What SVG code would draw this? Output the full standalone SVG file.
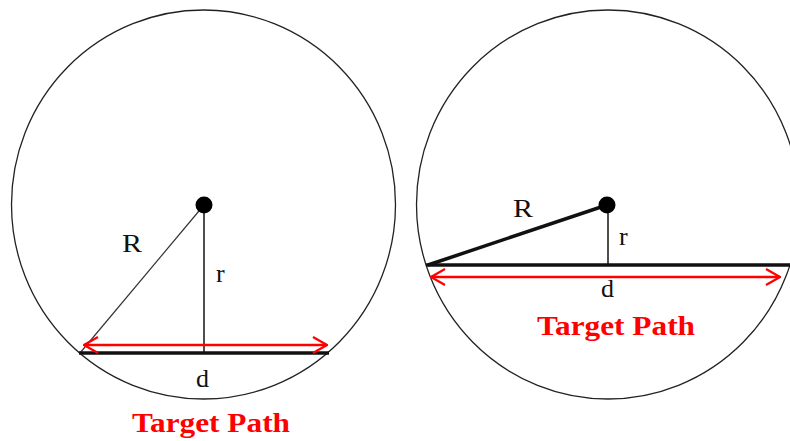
<svg xmlns="http://www.w3.org/2000/svg" width="790" height="441" viewBox="0 0 790 441">
  <style>
    .circ { fill: none; stroke: #222; stroke-width: 1.3; }
    .dot { fill: #000; }
    .thin { stroke: #333; stroke-width: 1.2; fill: none; }
    .vert { stroke: #222; stroke-width: 1.6; fill: none; }
    .thick { stroke: #111; stroke-width: 3.5; fill: none; }
    .chord { stroke: #111; stroke-width: 3.5; fill: none; }
    .red { stroke: #ff0000; stroke-width: 2.4; fill: none; marker-start: url(#head); marker-end: url(#head); }
    .lbl { font-family: "Liberation Serif", "Times New Roman", serif; font-size: 26px; fill: #111; }
    .title { font-family: "Liberation Serif", "Times New Roman", serif; font-size: 27px; font-weight: bold; fill: #ff0000; }
  </style>
  <defs>
    <marker id="head" viewBox="0 0 16 18" refX="15" refY="9" markerWidth="16" markerHeight="18" markerUnits="userSpaceOnUse" orient="auto-start-reverse">
      <path d="M1,1 L15,9 L1,17" fill="none" stroke="#ff0000" stroke-width="2.2"/>
    </marker>
  </defs>
  <rect width="790" height="441" fill="#fff"/>

  <g id="circle-left">
    <ellipse class="circ" cx="203.5" cy="204.5" rx="192" ry="194.5"/>
  </g>
  <g id="circle-right">
    <ellipse class="circ" cx="608" cy="204.5" rx="191.5" ry="194.5"/>
  </g>

  <g id="connectors">
    <line id="left-R" class="thin" x1="204" y1="205" x2="80" y2="353"/>
    <line id="left-r" class="vert" x1="204" y1="205" x2="204" y2="353"/>
    <line id="left-chord" class="chord" x1="79" y1="353" x2="329" y2="353"/>
    <line id="left-d" class="red" x1="84" y1="345" x2="327" y2="345"/>
    <line id="right-R" class="thick" x1="428" y1="265" x2="607" y2="205"/>
    <line id="right-r" class="vert" x1="608" y1="205" x2="608" y2="265"/>
    <line id="right-chord" class="chord" x1="426" y1="265" x2="790" y2="265"/>
    <line id="right-d" class="red" x1="431" y1="277" x2="780" y2="277"/>
  </g>

  <g id="center-left">
    <circle class="dot" cx="204" cy="205" r="8.5"/>
  </g>
  <g id="center-right">
    <circle class="dot" cx="607" cy="205" r="8.5"/>
  </g>

  <g id="labels-left">
    <text class="lbl" x="122" y="252" textLength="20" lengthAdjust="spacingAndGlyphs">R</text>
    <text class="lbl" x="216" y="282">r</text>
    <text class="lbl" x="196" y="387">d</text>
    <text class="title" x="132" y="432" textLength="158" lengthAdjust="spacingAndGlyphs">Target Path</text>
  </g>
  <g id="labels-right">
    <text class="lbl" x="513" y="217" textLength="20" lengthAdjust="spacingAndGlyphs">R</text>
    <text class="lbl" x="619" y="245">r</text>
    <text class="lbl" x="601" y="297">d</text>
    <text class="title" x="537" y="335" textLength="158" lengthAdjust="spacingAndGlyphs">Target Path</text>
  </g>
</svg>
